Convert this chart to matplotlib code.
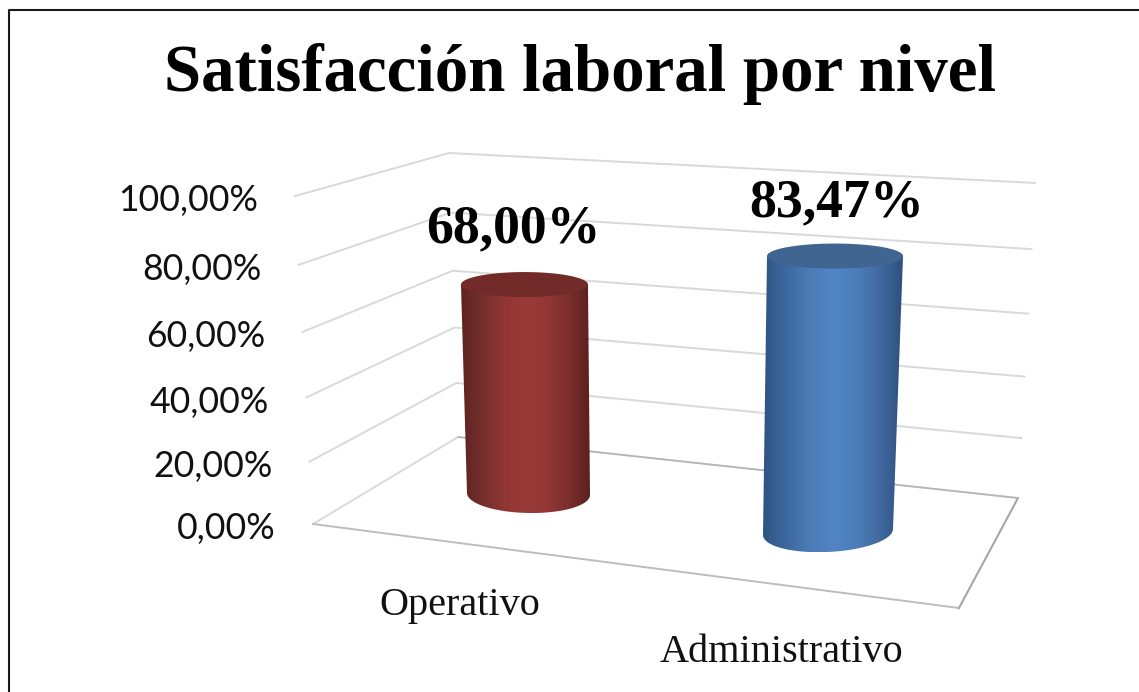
import numpy as np
import matplotlib
matplotlib.use("Agg")
import matplotlib.pyplot as plt
from matplotlib.colors import LinearSegmentedColormap
from matplotlib.patches import Polygon

# ---- data
title = "Satisfacción laboral por nivel"
categories = ["Operativo", "Administrativo"]
values = [68.00, 83.47]
value_labels = ["68,00%", "83,47%"]
ticks = [0, 20, 40, 60, 80, 100]
tick_labels = ["0,00%", "20,00%", "40,00%", "60,00%", "80,00%", "100,00%"]

# ---- geometry of the 3-D box, in figure pixels
W, H = 1139, 692
LEFT_0, LEFT_100 = (313, 524), (295, 196)
BACK_0, BACK_100 = (458, 437), (449, 153)
RIGHT_0, RIGHT_100 = (1018, 498), (1035, 183)
FRONT_RIGHT = (959, 608)


def on_edge(p0, p100, v):
    """Point at value v on a vertical box edge (mild perspective along the axis)."""
    p0, p100 = np.array(p0, float), np.array(p100, float)
    w = (3.08 * v + 0.002 * v * v) / 328
    return p0 + (p100 - p0) * w


# per-cylinder geometry: base centre, px per %, x drift per %, radii
CYL = [
    dict(cx=528.5, cy=494, sy=3.08, dx=-0.059, rx0=61.5, rx1=63.5, ry0=19, ry1=12.5, tilt=-1,
         top="#722b29",
         stops=["#5e2321", "#75302d", "#913634", "#9b3a38", "#933735", "#7a2e2c", "#5a201f"]),
    dict(cx=828, cy=532, sy=3.306, dx=0.084, rx0=65, rx1=68, ry0=20, ry1=12.5, tilt=3,
         top="#3f6590",
         stops=["#2f5483", "#3d689e", "#4c7cb6", "#5185c6", "#4c7db8", "#41699f", "#2d4f7c"]),
]
LABEL_OFFSET = [(-11, -55), (2, -53)]
CAT_POS = [(460, 605), (781.5, 652)]

fig = plt.figure(figsize=(W / 100, H / 100), dpi=100)
ax = fig.add_axes([0, 0, 1, 1])

# frame
ax.plot([8.5, 8.5, W + 2], [H + 2, 9.5, 9.5], color="#1a1a1a", lw=1.5, zorder=1)

# gridlines on the two walls, tick labels
GRID = "#d9d9d9"
for v, lab in zip(ticks, tick_labels):
    a = on_edge(LEFT_0, LEFT_100, v)
    b = on_edge(BACK_0, BACK_100, v)
    c = on_edge(RIGHT_0, RIGHT_100, v)
    ax.plot([a[0], b[0], c[0]], [a[1], b[1], c[1]], color=GRID, lw=1.4, zorder=2,
            solid_joinstyle="miter")
    ax.text(a[0] - 37, a[1] + 4.5, lab, ha="right", va="center", family="Lato",
            fontsize=25.6, color="#111111", zorder=6)

# floor
ax.plot([LEFT_0[0], FRONT_RIGHT[0]], [LEFT_0[1], FRONT_RIGHT[1]],
        color="#bdbdbd", lw=1.4, zorder=2)
ax.plot([FRONT_RIGHT[0], RIGHT_0[0]], [FRONT_RIGHT[1], RIGHT_0[1]],
        color="#a6a6a6", lw=1.5, zorder=2)
ax.plot([BACK_0[0], RIGHT_0[0]], [BACK_0[1], RIGHT_0[1]], color="#b5b5b5", lw=1.2, zorder=2)

# cylinders
for val, g, off, lab in zip(values, CYL, LABEL_OFFSET, value_labels):
    tx = g["cx"] + g["dx"] * val
    ty = g["cy"] - g["sy"] * val
    th = np.linspace(np.pi, 0, 120)
    xb = g["cx"] + g["rx0"] * np.cos(th)
    yb = g["cy"] + g["ry0"] * np.sin(th) - g["tilt"] * np.cos(th)
    # upper edge of the body runs under the top ellipse, through its centre
    outline = np.vstack([np.c_[xb, yb], [[tx + g["rx1"], ty], [tx - g["rx1"], ty]]])
    x0, x1 = outline[:, 0].min(), outline[:, 0].max()
    y0, y1 = outline[:, 1].min(), outline[:, 1].max()
    cmap = LinearSegmentedColormap.from_list("c", g["stops"])
    im = ax.imshow(np.linspace(0, 1, 256)[None, :], cmap=cmap, aspect="auto",
                   extent=(x0, x1, y1, y0), interpolation="bilinear", zorder=3)
    im.set_clip_path(Polygon(outline, closed=True, transform=ax.transData))
    phi = np.linspace(0, 2 * np.pi, 200)
    ax.fill(tx + g["rx1"] * np.cos(phi), ty + g["ry1"] * np.sin(phi),
            color=g["top"], lw=0, zorder=4)
    ax.text(tx + off[0], ty + off[1], lab, ha="center", va="center",
            family="Liberation Serif", weight="bold", fontsize=38.7, color="black", zorder=7)

# category labels
for cat, (x, y) in zip(categories, CAT_POS):
    ax.text(x, y, cat, ha="center", va="center", family="Liberation Serif",
            fontsize=29, color="#111111", zorder=6)

ax.text(580, 91, title, ha="center", va="baseline", family="Liberation Serif",
        weight="bold", fontsize=48.2, color="black", zorder=6)

ax.set_xlim(0, W)
ax.set_ylim(H, 0)
ax.axis("off")

fig.savefig("out.png", dpi=100)
